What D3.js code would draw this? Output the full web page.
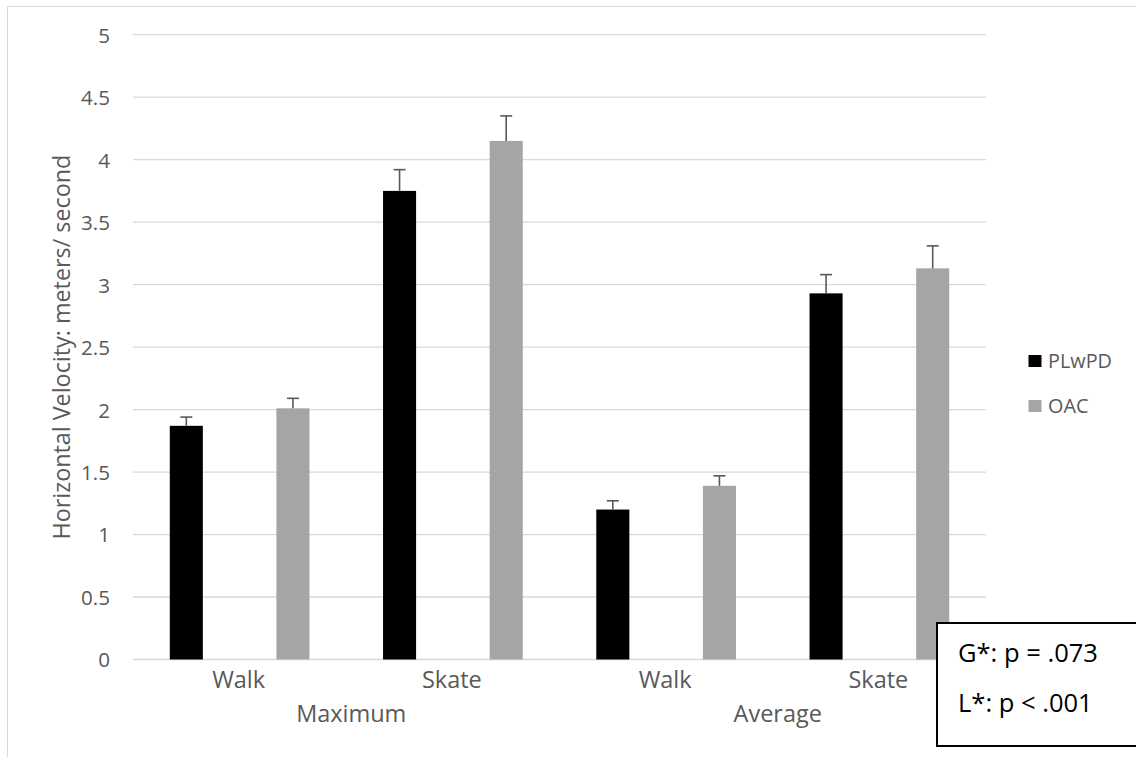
<!DOCTYPE html>
<html>
<head>
<meta charset="utf-8">
<script src="https://cdn.jsdelivr.net/npm/d3@7"></script>
<style>
  html, body { margin: 0; padding: 0; background: #fff; }
  svg { display: block; }
  text { font-family: "Open Sans", "Noto Sans", sans-serif; }
</style>
</head>
<body>
<svg id="chart" width="1136" height="757"></svg>
<script>
// ---- data ----
const groups = ["Maximum", "Average"];
const conditions = ["Walk", "Skate"];
const series = ["PLwPD", "OAC"];
const plwpdValues = [1.87, 3.75, 1.20, 2.93];
const plwpdErrors = [0.07, 0.17, 0.07, 0.15];
const oacValues = [2.01, 4.15, 1.39, 3.13];
const oacErrors = [0.08, 0.20, 0.08, 0.18];
const yTicks = [0, 0.5, 1, 1.5, 2, 2.5, 3, 3.5, 4, 4.5, 5];
const yTitle = "Horizontal Velocity: meters/ second";
const noteLines = ["G*: p = .073", "L*: p < .001"];

// categories: group x condition
const categories = [];
groups.forEach(g => conditions.forEach(c => categories.push(g + "|" + c)));
const seriesData = [
  { name: series[0], values: plwpdValues, errors: plwpdErrors, color: "#000000" },
  { name: series[1], values: oacValues, errors: oacErrors, color: "#a5a5a5" }
];

// ---- layout ----
const svg = d3.select("#chart");
const plot = { left: 133, right: 986, top: 34.7, bottom: 659.5 };
const textColor = "#595959";

function fit(sel, target) {
  sel.each(function () {
    const base = parseFloat(this.getAttribute("font-size"));
    const w = this.getComputedTextLength();
    if (w > 0) this.setAttribute("font-size", (base * target / w).toFixed(2));
  });
}

// outer chart border
svg.append("rect")
  .attr("x", 7.5).attr("y", 6.5).attr("width", 1140).attr("height", 760)
  .attr("fill", "none").attr("stroke", "#d9d9d9").attr("stroke-width", 1);

const x = d3.scaleBand().domain(categories).range([plot.left, plot.right]).padding(0);
const xInner = d3.scaleBand().domain(series).range([0, x.bandwidth()])
  .paddingInner(0.69).paddingOuter(0.345);
const y = d3.scaleLinear().domain([0, 5]).range([plot.bottom, plot.top]);

// gridlines
svg.append("g").selectAll("line").data(yTicks).join("line")
  .attr("x1", plot.left).attr("x2", plot.right)
  .attr("y1", d => y(d)).attr("y2", d => y(d))
  .attr("stroke", "#d9d9d9").attr("stroke-width", 1.3);

// y axis labels via d3 axis
const yAxis = svg.append("g").attr("transform", "translate(110,0)")
  .call(d3.axisLeft(y).tickValues(yTicks).tickSize(0).tickPadding(0).tickFormat(d3.format("")));
yAxis.select(".domain").remove();
yAxis.selectAll("text")
  .attr("font-size", 20).attr("fill", textColor)
  .attr("font-family", "'Open Sans', sans-serif").attr("dy", "0.36em");
fit(yAxis.selectAll(".tick").filter(d => d === 4.5).select("text"), 29);
const tickFs = yAxis.selectAll(".tick").filter(d => d === 4.5).select("text").attr("font-size");
yAxis.selectAll("text").attr("font-size", tickFs);

// bars
const barG = svg.append("g");
seriesData.forEach(s => {
  const g = barG.append("g");
  g.selectAll("rect").data(categories).join("rect")
    .attr("x", (c) => x(c) + xInner(s.name))
    .attr("width", xInner.bandwidth())
    .attr("y", (c, i) => y(s.values[i]))
    .attr("height", (c, i) => y(0) - y(s.values[i]))
    .attr("fill", s.color);
  // error bars
  g.selectAll("line.err").data(categories).join("line").attr("class", "err")
    .attr("x1", c => x(c) + xInner(s.name) + xInner.bandwidth() / 2)
    .attr("x2", c => x(c) + xInner(s.name) + xInner.bandwidth() / 2)
    .attr("y1", (c, i) => y(s.values[i]))
    .attr("y2", (c, i) => y(s.values[i] + s.errors[i]))
    .attr("stroke", "#595959").attr("stroke-width", 1.6);
  g.selectAll("line.cap").data(categories).join("line").attr("class", "cap")
    .attr("x1", c => x(c) + xInner(s.name) + xInner.bandwidth() / 2 - 6)
    .attr("x2", c => x(c) + xInner(s.name) + xInner.bandwidth() / 2 + 6)
    .attr("y1", (c, i) => y(s.values[i] + s.errors[i]))
    .attr("y2", (c, i) => y(s.values[i] + s.errors[i]))
    .attr("stroke", "#595959").attr("stroke-width", 1.6);
});

// category labels
const catLabels = svg.append("g").selectAll("text").data(categories).join("text")
  .attr("x", c => x(c) + x.bandwidth() / 2 - 1)
  .attr("y", 688)
  .attr("text-anchor", "middle")
  .attr("font-size", 20).attr("fill", textColor)
  .text(c => c.split("|")[1]);
fit(catLabels.filter((d, i) => i === 0), 53);
catLabels.attr("font-size", catLabels.filter((d, i) => i === 0).attr("font-size"));

// group labels
const groupLabels = svg.append("g").selectAll("text").data(groups).join("text")
  .attr("x", g => {
    const cs = categories.filter(c => c.startsWith(g + "|"));
    return (x(cs[0]) + x(cs[cs.length - 1]) + x.bandwidth()) / 2 + 5;
  })
  .attr("y", 721.7)
  .attr("text-anchor", "middle")
  .attr("font-size", catLabels.attr("font-size")).attr("fill", textColor)
  .text(g => g);

// y title
const yt = svg.append("text")
  .attr("transform", `translate(70,${(plot.top + plot.bottom) / 2}) rotate(-90)`)
  .attr("text-anchor", "middle")
  .attr("font-size", 20).attr("fill", textColor)
  .text(yTitle);
fit(yt, 385);

// legend
const legend = svg.append("g");
seriesData.forEach((s, i) => {
  const cy = 361 + i * 45;
  legend.append("rect").attr("x", 1028.5).attr("y", cy - 6).attr("width", 13).attr("height", 12)
    .attr("fill", s.color);
  const t = legend.append("text").attr("x", 1048).attr("y", cy).attr("dy", "0.36em")
    .attr("font-size", 19).attr("fill", textColor).text(s.name);
  if (i === 0) fit(t, 64);
});
legend.selectAll("text").attr("font-size", legend.select("text").attr("font-size"));

// note box
svg.append("rect")
  .attr("x", 937).attr("y", 623).attr("width", 210).attr("height", 123)
  .attr("fill", "#fff").attr("stroke", "#000").attr("stroke-width", 2);
const notes = svg.append("g").selectAll("text").data(noteLines).join("text")
  .attr("x", 958).attr("y", (d, i) => 661.7 + i * 50)
  .attr("font-size", 24).attr("fill", "#000")
  .attr("font-family", "Lato, 'Open Sans', sans-serif")
  .text(d => d);
fit(notes.filter((d, i) => i === 0), 140);
notes.attr("font-size", notes.filter((d, i) => i === 0).attr("font-size"));
</script>
</body>
</html>
